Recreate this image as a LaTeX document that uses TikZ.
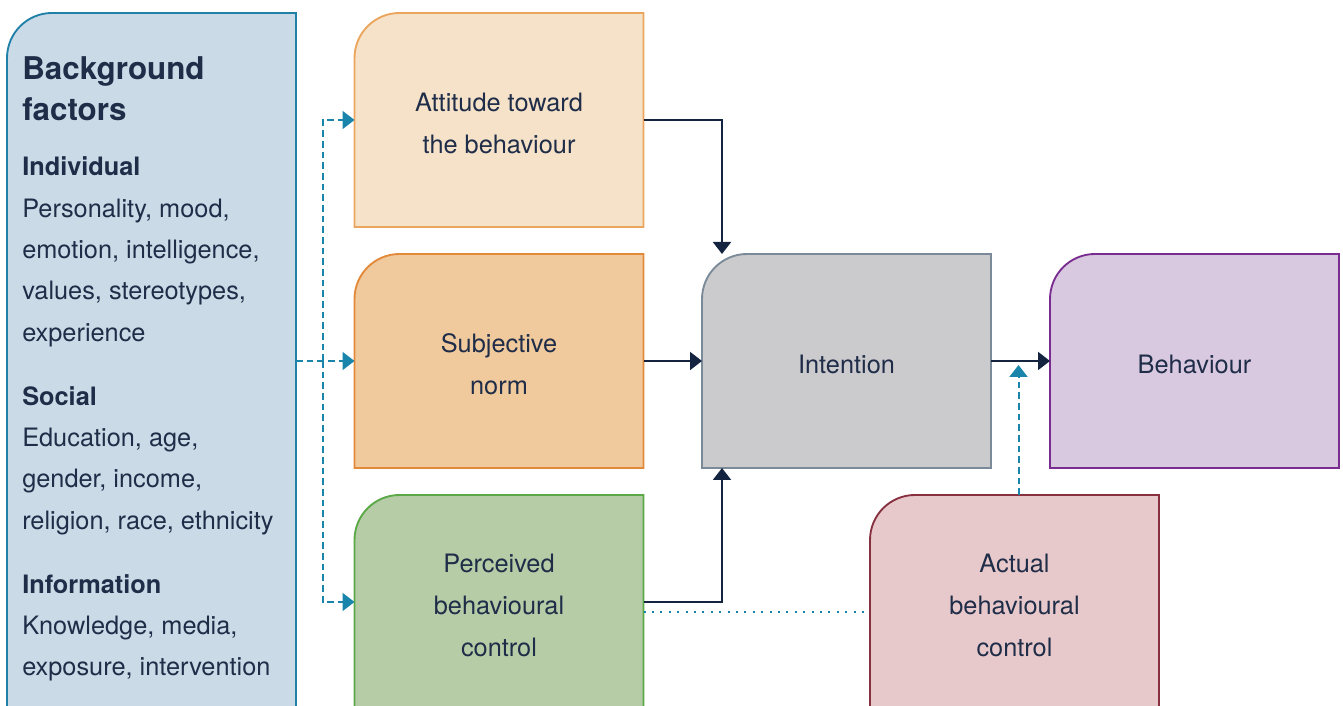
\documentclass[tikz,border=0pt]{standalone}
\usepackage{fontspec}
\setmainfont{TeX Gyre Heros}
\usetikzlibrary{arrows.meta,backgrounds}

\definecolor{bgfill}{HTML}{CADBE7}
\definecolor{bgline}{HTML}{2180A8}
\definecolor{attfill}{HTML}{F5E2C9}
\definecolor{attline}{HTML}{EBA55C}
\definecolor{subjfill}{HTML}{F0C99D}
\definecolor{subjline}{HTML}{E3893A}
\definecolor{percfill}{HTML}{B5CCA6}
\definecolor{percline}{HTML}{5AA846}
\definecolor{intfill}{HTML}{CBCACD}
\definecolor{intline}{HTML}{7B8A98}
\definecolor{behfill}{HTML}{D8C9E0}
\definecolor{behline}{HTML}{7A2D90}
\definecolor{actfill}{HTML}{E8C9CB}
\definecolor{actline}{HTML}{873040}
\definecolor{linkteal}{HTML}{1A85AB}
\definecolor{linknavy}{HTML}{14233F}
\definecolor{labelink}{HTML}{1F2D48}
\newcommand\upstrut{\rule{0pt}{19.5pt}}

\begin{document}
\begin{tikzpicture}[x=0.75pt,y=0.75pt,
    stage/.style={rectangle,minimum width=216.75pt,minimum height=160.5pt,
        inner sep=0pt,outer sep=0pt,align=center,text=labelink,
        font=\fontsize{19}{31.5}\selectfont},
    flow/.style={draw=linknavy,line width=1.5pt,-{Triangle[length=9pt,width=13.5pt]}},
    feed/.style={draw=linkteal,line width=1.5pt,dash pattern=on 5pt off 3pt,
        -{Triangle[length=9pt,width=13.5pt]}},
    tie/.style={draw=linkteal,line width=1.6pt,dash pattern=on 1.6pt off 4.7pt}]
\useasboundingbox (0,0) rectangle (1343,706);
\clip (0,0) rectangle (1343,706);

\node[stage,anchor=north west,minimum height=530pt] (bg) at (7,693) {};
\node[anchor=north west,inner sep=0pt,align=left,text=labelink,
    font=\fontsize{19}{31}\selectfont] (bgtext) at (22,650)
    {{\fontsize{23.5}{30}\selectfont\bfseries Background}\\
     {\fontsize{23.5}{30}\selectfont\bfseries factors}\\[10.5pt]
     \textbf{Individual}\\
     Personality, mood,\\
     emotion, intelligence,\\
     values, stereotypes,\\
     experience\\[17pt]
     \textbf{Social}\\
     Education, age,\\
     gender, income,\\
     religion, race, ethnicity\\[17pt]
     \textbf{Information}\\
     Knowledge, media,\\
     exposure, intervention};

\node[stage] (att) at (499,586) {\upstrut Attitude toward\\the behaviour};
\node[stage] (subj) at (499,345) {\upstrut Subjective\\norm};
\node[stage] (perc) at (499,104) {\upstrut Perceived\\behavioural\\control};
\node[stage] (int) at (846.5,345) {\upstrut Intention};
\node[stage] (beh) at (1194.5,345) {\upstrut Behaviour};
\node[stage] (act) at (1014.5,104) {\upstrut Actual\\behavioural\\control};

\begin{scope}[on background layer]
\foreach \n/\f/\d in {bg/bgfill/bgline, att/attfill/attline, subj/subjfill/subjline,
        perc/percfill/percline, int/intfill/intline, beh/behfill/behline,
        act/actfill/actline}
    \draw[draw=\d,fill=\f,line width=1.4pt]
        ([yshift=-33.75pt]\n.north west) arc[start angle=180,end angle=90,radius=33.75pt]
        -- (\n.north east) -- (\n.south east) -- (\n.south west) -- cycle;
\end{scope}

\coordinate (split) at ([xshift=-24pt]subj.west);
\draw[feed] (bg.east |- subj.west) -- (subj.west);
\draw[feed] (split) |- (att.west);
\draw[feed] (split) |- (perc.west);

\draw[flow] (att.east) -| ([xshift=15pt]int.north west);
\draw[flow] (subj.east) -- (int.west);
\draw[flow] (perc.east) -| ([xshift=15pt]int.south west);
\draw[flow] (int.east) -- (beh.west);

\coordinate (hit) at ([xshift=3pt]act.north |- int.east);
\draw[feed] ([xshift=3pt]act.north) -- ([yshift=-3pt]hit);
\draw[tie] ([yshift=-7.5pt]perc.east) -- ([yshift=-7.5pt]act.west);
\end{tikzpicture}
\end{document}
